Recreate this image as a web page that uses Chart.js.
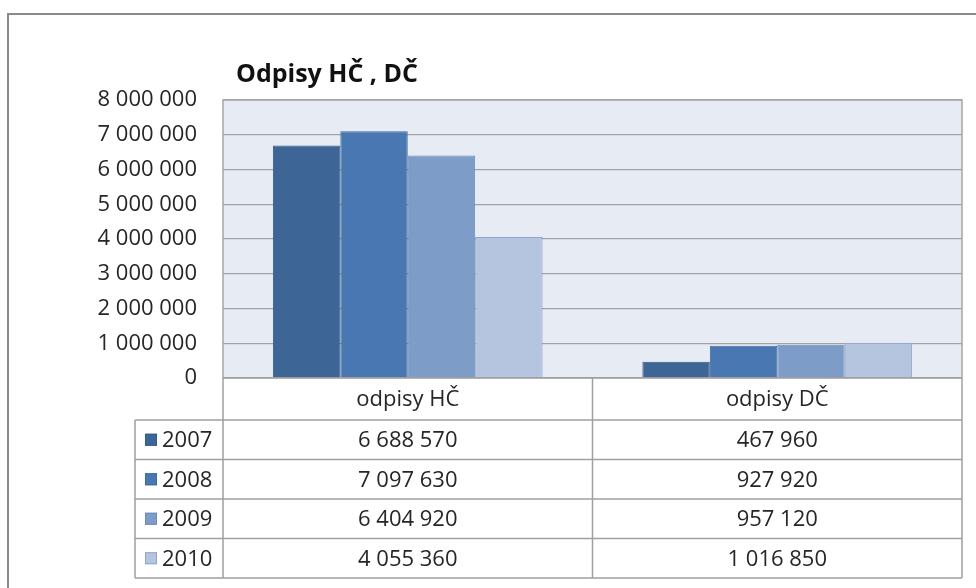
<!DOCTYPE html>
<html>
<head>
<meta charset="utf-8">
<script src="https://cdn.jsdelivr.net/npm/chart.js@4"></script>
<style>
  html, body { margin: 0; padding: 0; background: #fff; }
  #wrap { width: 976px; height: 588px; }
</style>
</head>
<body>
<div id="wrap"><canvas id="c" width="976" height="588"></canvas></div>
<script>
const chartTitle = 'Odpisy HČ , DČ';
const categories = ['odpisy HČ', 'odpisy DČ'];
const years = ['2007', '2008', '2009', '2010'];
const values2007 = [6688570, 467960];
const values2008 = [7097630, 927920];
const values2009 = [6404920, 957120];
const values2010 = [4055360, 1016850];
const yMin = 0, yMax = 8000000, yStep = 1000000;

const seriesValues = [values2007, values2008, values2009, values2010];
const fillColors = ['#3d6595', '#4877b1', '#7e9cc8', '#b5c4df'];
const edgeColors = ['#365a86', '#3f6a9e', '#6d8bb8', '#8ea6cd'];

const FONT = '"Open Sans", "DejaVu Sans", sans-serif';
const TEXT = '#262626';
const fmt = v => String(Math.round(v)).replace(/\B(?=(\d{3})+(?!\d))/g, ' ');

const framePlugin = {
  id: 'frame',
  beforeDraw(chart) {
    const ctx = chart.ctx, ca = chart.chartArea;
    ctx.save();
    ctx.fillStyle = '#fff';
    ctx.fillRect(0, 0, chart.width, chart.height);
    // outer frame
    ctx.strokeStyle = '#8a8a8a';
    ctx.lineWidth = 2;
    ctx.beginPath();
    ctx.moveTo(8, chart.height + 2);
    ctx.lineTo(8, 14);
    ctx.lineTo(chart.width + 2, 14);
    ctx.stroke();
    // plot background
    ctx.fillStyle = '#e7ecf4';
    ctx.fillRect(ca.left, ca.top, ca.right - ca.left, ca.bottom - ca.top);
    ctx.restore();
  },
  afterDraw(chart) {
    const ctx = chart.ctx, ca = chart.chartArea;
    ctx.save();
    // plot border
    ctx.strokeStyle = '#a6a6a6';
    ctx.lineWidth = 1.5;
    ctx.beginPath();
    ctx.moveTo(ca.left, ca.bottom);
    ctx.lineTo(ca.left, ca.top);
    ctx.lineTo(ca.right, ca.top);
    ctx.lineTo(ca.right, ca.bottom);
    ctx.stroke();

    // title
    ctx.fillStyle = '#111';
    ctx.font = 'bold 25px ' + FONT;
    ctx.textAlign = 'left';
    ctx.textBaseline = 'middle';
    ctx.fillText(chartTitle, 236, 75);

    // data table
    const n = categories.length;
    const colW = (ca.right - ca.left) / n;
    const bounds = [];
    for (let i = 0; i <= n; i++) bounds.push(ca.left + i * colW);
    const headTop = ca.bottom, headBottom = ca.bottom + 42;
    const rowH = 39.5;
    const labelLeft = 135;
    const tableBottom = headBottom + rowH * years.length;

    ctx.strokeStyle = '#a0a0a0';
    ctx.lineWidth = 1.5;
    ctx.beginPath();
    ctx.moveTo(ca.left, headTop); ctx.lineTo(ca.right, headTop);
    for (let r = 0; r <= years.length; r++) {
      const y = headBottom + r * rowH;
      ctx.moveTo(labelLeft, y); ctx.lineTo(ca.right, y);
    }
    ctx.moveTo(labelLeft, headBottom); ctx.lineTo(labelLeft, tableBottom);
    bounds.forEach(x => { ctx.moveTo(x, headTop); ctx.lineTo(x, tableBottom); });
    ctx.stroke();

    ctx.fillStyle = TEXT;
    ctx.font = '22px ' + FONT;
    ctx.textAlign = 'center';
    ctx.textBaseline = 'middle';
    categories.forEach((c, i) => {
      ctx.fillText(c, (bounds[i] + bounds[i + 1]) / 2, (headTop + headBottom) / 2 + 1);
    });
    years.forEach((yr, r) => {
      const yc = headBottom + r * rowH + rowH / 2 + 1;
      // legend key
      ctx.fillStyle = fillColors[r];
      ctx.fillRect(145, yc - 7, 12, 12);
      ctx.strokeStyle = edgeColors[r];
      ctx.lineWidth = 1;
      ctx.strokeRect(145.5, yc - 6.5, 11, 11);
      ctx.fillStyle = TEXT;
      ctx.textAlign = 'left';
      ctx.fillText(yr, 162, yc);
      ctx.textAlign = 'center';
      seriesValues[r].forEach((v, i) => {
        ctx.fillText(fmt(v), (bounds[i] + bounds[i + 1]) / 2, yc);
      });
    });
    ctx.restore();
  }
};

new Chart(document.getElementById('c'), {
  type: 'bar',
  data: {
    labels: categories,
    datasets: years.map((yr, i) => ({
      label: yr,
      data: seriesValues[i],
      backgroundColor: fillColors[i],
      borderColor: edgeColors[i],
      borderWidth: 1,
      categoryPercentage: 0.73,
      barPercentage: 1.0
    }))
  },
  options: {
    responsive: false,
    animation: false,
    devicePixelRatio: 1,
    layout: { padding: { left: 0, top: 100, right: 14, bottom: 210 } },
    plugins: { legend: { display: false }, title: { display: false }, tooltip: { enabled: false } },
    scales: {
      x: { display: false },
      y: {
        min: yMin, max: yMax,
        afterFit(s) { s.width = 223; },
        border: { display: false },
        grid: { color: '#a2a2a2', lineWidth: 1.2, drawTicks: false },
        ticks: {
          stepSize: yStep,
          padding: 26,
          color: TEXT,
          font: { family: FONT, size: 22 },
          callback: v => fmt(v)
        }
      }
    }
  },
  plugins: [framePlugin]
});
</script>
</body>
</html>
